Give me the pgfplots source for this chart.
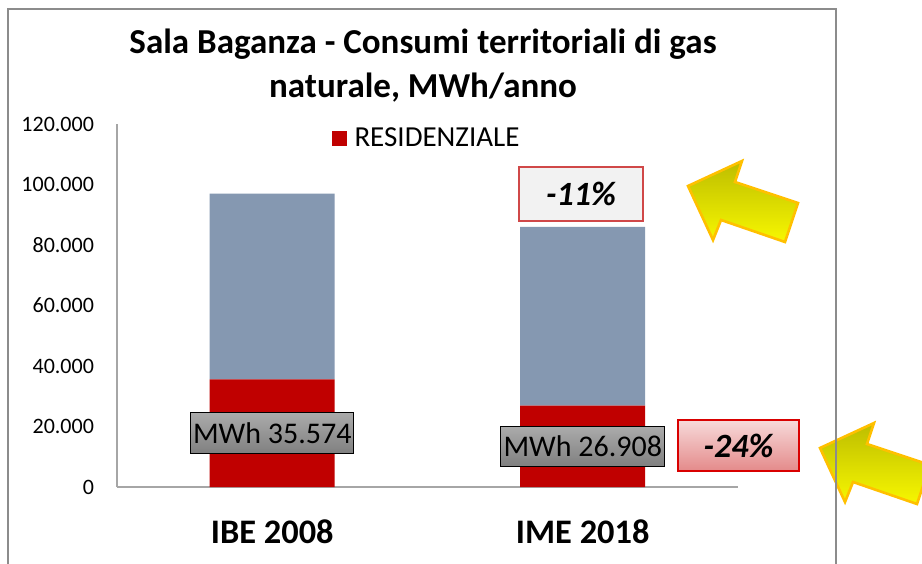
\documentclass[border=0pt]{standalone}
\usepackage{pgfplots}
\pgfplotsset{compat=1.18}
\usepackage{fontspec}
\setmainfont{Carlito}

\definecolor{resred}{HTML}{C00000}
\definecolor{othblue}{HTML}{8598B1}
\definecolor{framegray}{HTML}{8C8C8C}
\definecolor{axisgray}{HTML}{A6A6A6}
\definecolor{arrtop}{HTML}{BDBD00}
\definecolor{arrbot}{HTML}{F7F700}
\definecolor{arredge}{HTML}{FFC000}
\definecolor{pctred}{HTML}{D04848}

\tikzset{mwhbox/.style={draw=black, line width=0.6pt, top color=black!33, bottom color=black!50,
    minimum width=81.5pt, minimum height=20.5pt, inner sep=0pt, font=\fontsize{15}{17}\selectfont}}

\begin{document}
\begin{tikzpicture}[x=0.5pt,y=0.5pt]
% picture area, 1 unit = 1 px of the reference
\path[use as bounding box, clip] (0,0) rectangle (922,563);
\fill[white] (0,0) rectangle (922,563);

\node[font=\bfseries\fontsize{17.5}{22}\selectfont, align=center] at (423,497)
  {Sala Baganza - Consumi territoriali di gas\\naturale, MWh/anno};

\begin{axis}[
    at={(58.5pt,38pt)}, anchor=south west,
    width=310.5pt, height=181.5pt, scale only axis,
    xmin=-0.5, xmax=1.5, ymin=0, ymax=120000,
    ybar stacked, bar width=62.5pt,
    axis x line*=bottom, axis y line*=left,
    axis line style={draw=axisgray, line width=0.6pt, -},
    major tick length=0pt,
    xtick=data, xticklabels={IBE 2008, IME 2018},
    xticklabel style={font=\bfseries\fontsize{17.2}{20}\selectfont, yshift=-13pt},
    ytick={0,20000,40000,60000,80000,100000,120000},
    scaled y ticks=false,
    yticklabel style={font=\fontsize{11}{13}\selectfont, anchor=east, xshift=-8pt,
      /pgf/number format/.cd, fixed, precision=0, 1000 sep={.}},
    /pgf/number format/assume math mode=true,
    legend style={at={(0.5,0.961)}, anchor=center, draw=none, fill=none,
      font=\fontsize{14.5}{17}\selectfont},
    legend image code/.code={\fill[resred] (0pt,-3.75pt) rectangle (7.5pt,3.75pt);},
  ]
  \addplot[fill=resred, draw=none] coordinates {(0,35574) (1,26908)};
  \addplot[fill=othblue, draw=none] coordinates {(0,61426) (1,59092)};
  \legend{\hspace{2pt}RESIDENZIALE}

  \coordinate (lab1) at (axis cs:0,17787);
  \coordinate (lab2) at (axis cs:1,13454);
\end{axis}

% data labels of the residential segment
\node[mwhbox] at (lab1) {MWh 35.574};
\node[mwhbox, minimum width=82pt, minimum height=20pt] at (lab2) {MWh 26.908};

% percentage boxes
\node[draw=pctred, line width=0.6pt, fill=black!5, minimum width=62pt, minimum height=27pt,
      inner sep=0pt, font=\bfseries\itshape\fontsize{17}{20}\selectfont] at (581,369) {-11\%};
\node[draw=red!85!black, line width=0.6pt, top color={rgb,255:red,247;green,218;blue,218},
      bottom color={rgb,255:red,228;green,138;blue,138}, minimum width=60.5pt, minimum height=25.5pt,
      inner sep=0pt, font=\bfseries\itshape\fontsize{17}{20}\selectfont] at (738.5,117.5) {-24\%};

% yellow arrows
\draw[draw=arredge, line width=1.3pt, line join=miter, top color=arrtop, bottom color=arrbot]
  (688,377) -- (742,402) -- (735,381) -- (798,360) -- (785,321) -- (721,343) -- (713,323) -- cycle;
\draw[draw=arredge, line width=1.3pt, line join=miter, top color=arrtop, bottom color=arrbot]
  (820,115) -- (874,140) -- (867,119) -- (930,98) -- (917,59) -- (853,81) -- (845,61) -- cycle;

% chart frame
\draw[framegray, line width=0.7pt] (8,-10) rectangle (836,554);
\end{tikzpicture}
\end{document}
